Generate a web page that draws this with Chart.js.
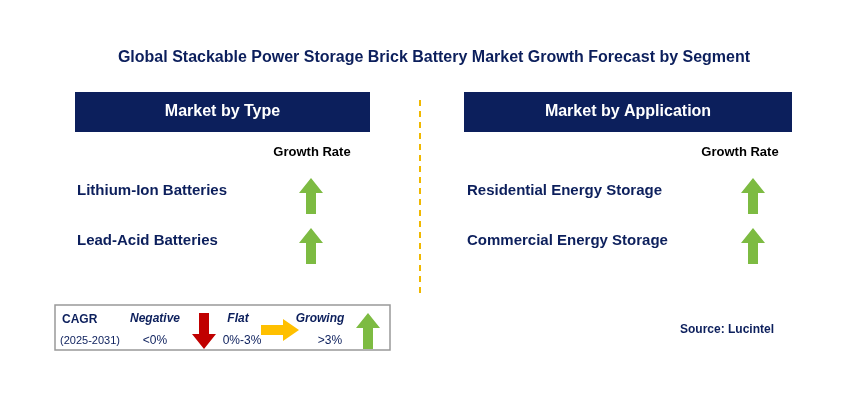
<!DOCTYPE html>
<html>
<head>
<meta charset="utf-8">
<script src="https://cdn.jsdelivr.net/npm/chart.js@4.4.0/dist/chart.umd.min.js"></script>
<style>
  html, body { margin: 0; padding: 0; background: #fff; }
  #wrap { width: 857px; height: 400px; }
</style>
</head>
<body>
<div id="wrap"><canvas id="c"></canvas></div>
<script>
const title = "Global Stackable Power Storage Brick Battery Market Growth Forecast by Segment";
const panels = ["Market by Type", "Market by Application"];
const typeSegments = ["Lithium-Ion Batteries", "Lead-Acid Batteries"];
const typeGrowth = ["up", "up"];
const appSegments = ["Residential Energy Storage", "Commercial Energy Storage"];
const appGrowth = ["up", "up"];
const legendLabels = ["Negative", "Flat", "Growing"];
const legendRanges = ["<0%", "0%-3%", ">3%"];
const legendArrows = ["down", "right", "up"];
const source = "Source: Lucintel";

const NAVY = "#0c1f5c";
const GREEN = "#7dbb42";

function arrowImg(dir) {
  const c = document.createElement("canvas");
  const big = dir === "right";
  c.width = big ? 38 : 24; c.height = big ? 22 : 36;
  const g = c.getContext("2d");
  g.fillStyle = dir === "up" ? GREEN : dir === "down" ? "#c00000" : "#ffc000";
  g.beginPath();
  if (dir === "up") {
    g.moveTo(12, 0); g.lineTo(24, 15); g.lineTo(17, 15); g.lineTo(17, 36);
    g.lineTo(7, 36); g.lineTo(7, 15); g.lineTo(0, 15);
  } else if (dir === "down") {
    g.moveTo(7, 0); g.lineTo(17, 0); g.lineTo(17, 21); g.lineTo(24, 21);
    g.lineTo(12, 36); g.lineTo(0, 21); g.lineTo(7, 21);
  } else {
    g.moveTo(0, 6); g.lineTo(22, 6); g.lineTo(22, 0); g.lineTo(38, 11);
    g.lineTo(22, 22); g.lineTo(22, 16); g.lineTo(0, 16);
  }
  g.closePath(); g.fill();
  return c;
}

// arrow positions on the layout scale
const rowY = i => 196 + i * 50;
const points = [];
typeGrowth.forEach((d, i) => points.push({ x: 311, y: rowY(i), d }));
appGrowth.forEach((d, i) => points.push({ x: 753, y: rowY(i), d }));
const legendX = [204, 280, 368];
legendArrows.forEach((d, i) => points.push({ x: legendX[i], y: i === 1 ? 330 : 331, d }));

const textPlugin = {
  id: "text",
  beforeDatasetsDraw(chart) {
    const g = chart.ctx;
    const F = "Arial, 'Liberation Sans', sans-serif";
    g.save();
    g.textBaseline = "middle";
    g.fillStyle = NAVY; g.font = "bold 16px " + F; g.textAlign = "center";
    g.fillText(title, 434, 58);
    [[75, 370], [464, 792]].forEach((b, i) => {
      g.fillStyle = NAVY; g.fillRect(b[0], 92, b[1] - b[0], 40);
      g.fillStyle = "#fff"; g.font = "bold 16px " + F;
      g.fillText(panels[i], (b[0] + b[1]) / 2, 112);
    });
    g.fillStyle = "#000"; g.font = "bold 13px " + F;
    g.fillText("Growth Rate", 312, 152);
    g.fillText("Growth Rate", 740, 152);
    g.textAlign = "left"; g.fillStyle = NAVY; g.font = "bold 15px " + F;
    typeSegments.forEach((s, i) => g.fillText(s, 77, rowY(i) - 5));
    appSegments.forEach((s, i) => g.fillText(s, 467, rowY(i) - 5));
    // divider
    g.strokeStyle = "#f0b800"; g.lineWidth = 2; g.setLineDash([6, 5]);
    g.beginPath(); g.moveTo(420, 100); g.lineTo(420, 295); g.stroke();
    g.setLineDash([]);
    // legend box
    g.strokeStyle = "#999"; g.lineWidth = 1.5;
    g.strokeRect(55, 305, 335, 45);
    g.fillStyle = NAVY; g.font = "bold 12px " + F;
    g.fillText("CAGR", 62, 320);
    g.font = "11px " + F; g.fillText("(2025-2031)", 60, 341);
    g.textAlign = "center";
    const lx = [155, 238, 320], rx = [155, 242, 330];
    legendLabels.forEach((s, i) => {
      g.font = "italic bold 12px " + F; g.fillText(s, lx[i], 319);
      g.font = "12px " + F; g.fillText(legendRanges[i], rx[i], 341);
    });
    g.font = "bold 12px " + F; g.textAlign = "left";
    g.fillText(source, 680, 330);
    g.restore();
  }
};

new Chart(document.getElementById("c"), {
  type: "scatter",
  data: {
    datasets: [{
      data: points,
      pointStyle: points.map(p => arrowImg(p.d)),
      pointRadius: 10,
      pointHoverRadius: 10
    }]
  },
  options: {
    responsive: true,
    maintainAspectRatio: false,
    animation: false,
    layout: { padding: 0, autoPadding: false },
    plugins: { legend: { display: false }, tooltip: { enabled: false } },
    scales: {
      x: { display: false, min: 0, max: 857 },
      y: { display: false, min: 0, max: 400, reverse: true }
    }
  },
  plugins: [textPlugin]
});
</script>
</body>
</html>
